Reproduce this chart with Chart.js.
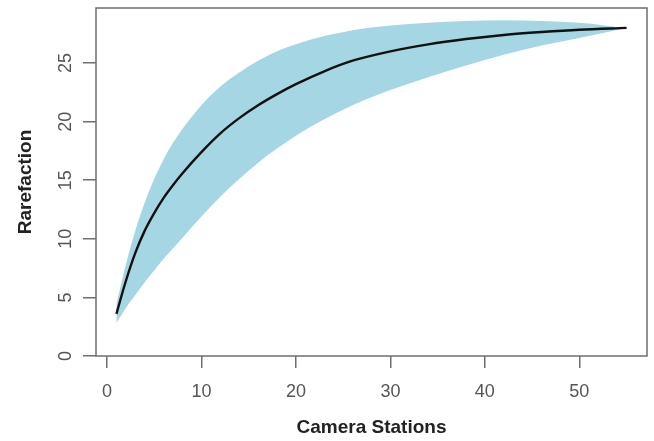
<!DOCTYPE html>
<html>
<head>
<meta charset="utf-8">
<script src="https://cdn.jsdelivr.net/npm/chart.js@4.4.1/dist/chart.umd.min.js"></script>
<style>
  html, body { margin: 0; padding: 0; background: #fff; }
  #wrap { width: 654px; height: 441px; }
</style>
</head>
<body>
<div id="wrap"><canvas id="chart" width="654" height="441"></canvas></div>
<script>
// rarefaction curve
const stations = [1, 2, 3, 4, 5, 6, 7, 8, 10, 12, 14, 16, 18, 20, 23, 26, 30, 34, 38, 42, 46, 50, 55];
const meanRich = [3.6, 6.4, 8.8, 10.7, 12.2, 13.5, 14.6, 15.6, 17.4, 19.0, 20.3, 21.4, 22.35, 23.2, 24.3, 25.2, 26.0, 26.6, 27.05, 27.4, 27.65, 27.85, 28.0];
const upperRich = [4.4, 7.8, 10.7, 13.1, 15.1, 16.8, 18.2, 19.4, 21.4, 23.0, 24.2, 25.2, 26.0, 26.6, 27.3, 27.8, 28.2, 28.45, 28.6, 28.65, 28.6, 28.45, 28.0];
const lowerRich = [2.8, 4.1, 5.2, 6.3, 7.3, 8.3, 9.2, 10.1, 11.9, 13.6, 15.1, 16.5, 17.7, 18.8, 20.2, 21.4, 22.7, 23.8, 24.8, 25.7, 26.5, 27.15, 28.0];

const xTicks = [0, 10, 20, 30, 40, 50];
const yTicks = [0, 5, 10, 15, 20, 25];

const axisColor = '#6e6e6e';
const bandColor = '#a5d6e3';

function pts(ys) {
    return stations.map((x, i) => ({ x: x, y: ys[i] }));
}

// box round the plot region, R style
const boxPlugin = {
    id: 'box',
    afterDraw(chart) {
        const { ctx, chartArea: a } = chart;
        ctx.save();
        ctx.strokeStyle = axisColor;
        ctx.lineWidth = 1.5;
        ctx.strokeRect(a.left, a.top, a.right - a.left, a.bottom - a.top);
        ctx.restore();
    }
};

// y tick labels turned 90 degrees like R's las=0
const yLabelPlugin = {
    id: 'yLabels',
    afterDraw(chart) {
        const { ctx } = chart;
        const y = chart.scales.y;
        ctx.save();
        ctx.fillStyle = '#555';
        ctx.font = '18px "Liberation Sans", Arial, sans-serif';
        ctx.textAlign = 'center';
        ctx.textBaseline = 'middle';
        y.ticks.forEach(t => {
            const py = y.getPixelForValue(t.value);
            ctx.save();
            ctx.translate(66, py);
            ctx.rotate(-Math.PI / 2);
            ctx.fillText(String(t.value), 0, 0);
            ctx.restore();
        });
        ctx.restore();
    }
};

new Chart(document.getElementById('chart'), {
    type: 'line',
    data: {
        datasets: [
            {
                label: 'upper',
                data: pts(upperRich),
                borderWidth: 0,
                pointRadius: 0,
                backgroundColor: bandColor,
                fill: '+1',
                cubicInterpolationMode: 'monotone',
                order: 2
            },
            {
                label: 'lower',
                data: pts(lowerRich),
                borderWidth: 0,
                pointRadius: 0,
                backgroundColor: bandColor,
                fill: false,
                cubicInterpolationMode: 'monotone',
                order: 2
            },
            {
                label: 'mean',
                data: pts(meanRich),
                borderColor: '#111',
                borderWidth: 2.4,
                pointRadius: 0,
                fill: false,
                cubicInterpolationMode: 'monotone',
                order: 1
            }
        ]
    },
    options: {
        responsive: false,
        animation: false,
        events: [],
        layout: { padding: { left: 0, right: 7, top: 8, bottom: 0 } },
        plugins: {
            legend: { display: false },
            tooltip: { enabled: false }
        },
        scales: {
            x: {
                type: 'linear',
                min: -1.16,
                max: 57.16,
                afterBuildTicks: s => { s.ticks = xTicks.map(v => ({ value: v })); },
                afterFit: s => { s.height = 85; },
                border: { display: false },
                grid: {
                    drawOnChartArea: false,
                    drawTicks: true,
                    tickLength: 12,
                    color: axisColor,
                    lineWidth: 1.5
                },
                ticks: {
                    color: '#555',
                    padding: 13,
                    maxRotation: 0,
                    font: { family: '"Liberation Sans", Arial, sans-serif', size: 18 }
                },
                title: {
                    display: true,
                    text: 'Camera Stations',
                    color: '#222',
                    padding: { top: 0, bottom: 2 },
                    font: { family: '"Liberation Sans", Arial, sans-serif', size: 19, weight: 'bold' }
                }
            },
            y: {
                type: 'linear',
                min: 0,
                max: 29.7,
                afterBuildTicks: s => { s.ticks = yTicks.map(v => ({ value: v })); },
                afterFit: s => { s.width = 96; },
                border: { display: false },
                grid: {
                    drawOnChartArea: false,
                    drawTicks: true,
                    tickLength: 13,
                    color: axisColor,
                    lineWidth: 1.5
                },
                ticks: { display: false },
                title: {
                    display: true,
                    text: 'Rarefaction',
                    color: '#222',
                    padding: { top: 14, bottom: 0 },
                    font: { family: '"Liberation Sans", Arial, sans-serif', size: 19, weight: 'bold' }
                }
            }
        }
    },
    plugins: [boxPlugin, yLabelPlugin]
});
</script>
</body>
</html>
